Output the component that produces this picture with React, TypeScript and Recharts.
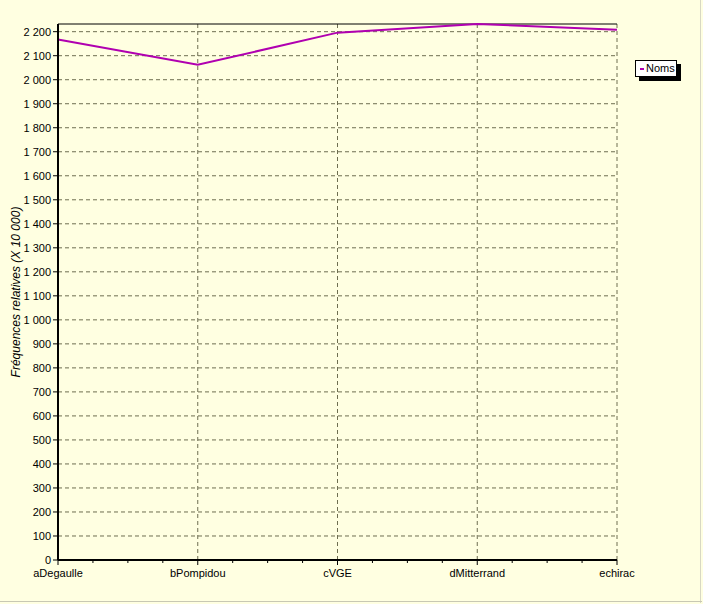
import React from 'react';
import {
  LineChart,
  Line,
  XAxis,
  YAxis,
  CartesianGrid,
  ReferenceLine,
  Label
} from 'recharts';

const categories = ['aDegaulle', 'bPompidou', 'cVGE', 'dMitterrand', 'echirac'];
const noms = [2167, 2062, 2196, 2232, 2208];
const yTicks = [
  0, 100, 200, 300, 400, 500, 600, 700, 800, 900, 1000, 1100,
  1200, 1300, 1400, 1500, 1600, 1700, 1800, 1900, 2000, 2100, 2200
];
const xTicks = [
  0, 0.25, 0.5, 0.75, 1, 1.25, 1.5, 1.75, 2, 2.25, 2.5, 2.75, 3, 3.25, 3.5, 3.75, 4
];
const yMax = 2232;

const data = categories.map((name, i) => ({ idx: i, name, noms: noms[i] }));

const FONT = '"Liberation Sans", Arial, sans-serif';
const BG = '#FFFFE1';
const LINE = '#B000B0';

const fmt = (v: number) =>
  v >= 1000 ? `${Math.floor(v / 1000)} ${String(v % 1000).padStart(3, '0')}` : String(v);

const XTick = (props: any) => {
  const { x, y, payload } = props;
  const v = payload.value as number;
  const major = Number.isInteger(v);
  return (
    <g>
      <line x1={x} x2={x} y1={y} y2={y + (major ? 5 : 3)} stroke="#000" />
      {major && (
        <text x={x} y={y + 17} textAnchor="middle" fontSize={11} fontFamily={FONT} fill="#000">
          {categories[v]}
        </text>
      )}
    </g>
  );
};

const LegendBox = () => (
  <div style={{ position: 'absolute', left: 635, top: 60, width: 46, height: 21 }}>
    <div
      style={{
        position: 'absolute', left: 4, top: 4, width: 42, height: 17, background: '#000'
      }}
    />
    <div
      style={{
        position: 'absolute', left: 0, top: 0, width: 40, height: 15,
        background: '#fff', border: '1px solid #000',
        fontFamily: FONT, fontSize: 11, lineHeight: '15px', color: '#000'
      }}
    >
      <span
        style={{
          display: 'inline-block', width: 4, height: 2, background: LINE,
          verticalAlign: 'middle', margin: '0 2px 0 4px'
        }}
      />
      Noms
    </div>
  </div>
);

export default function App() {
  return (
    <div
      style={{
        position: 'absolute', left: 0, top: 0, width: 703, height: 604, background: BG
      }}
    >
      <div style={{ position: 'absolute', right: 2, top: 0, width: 1, height: 603, background: '#d8d8c4' }} />
      <div style={{ position: 'absolute', left: 0, top: 601, width: 702, height: 1, background: '#c8c8b4' }} />
      <LineChart
        width={703}
        height={604}
        data={data}
        margin={{ top: 24, right: 86, bottom: 14, left: 0 }}
      >
        <CartesianGrid
          stroke="#6e6e50"
          strokeDasharray="4 3"
          verticalValues={[0, 1, 2, 3, 4]}
          horizontalValues={yTicks}
        />
        <ReferenceLine y={yMax} stroke="#000" strokeWidth={1} />
        <XAxis
          dataKey="idx"
          type="number"
          domain={[0, 4]}
          ticks={xTicks}
          interval={0}
          height={30}
          axisLine={{ stroke: '#000', strokeWidth: 2 }}
          tickLine={false}
          tickSize={0}
          tickMargin={0}
          tick={<XTick />}
        />
        <YAxis
          type="number"
          domain={[0, yMax]}
          ticks={yTicks}
          interval={0}
          width={58}
          axisLine={{ stroke: '#000', strokeWidth: 2 }}
          tickLine={{ stroke: '#000' }}
          tickSize={5}
          tickMargin={2}
          tickFormatter={fmt}
          tick={{ fill: '#000', fontSize: 11, fontFamily: FONT }}
        >
          <Label
            content={(p: any) => {
              const vb = p.viewBox || { x: 0, y: 24, width: 58, height: 536 };
              const cx = 16;
              const cy = vb.y + vb.height / 2;
              return (
                <text
                  x={cx}
                  y={cy}
                  transform={`rotate(-90 ${cx} ${cy})`}
                  textAnchor="middle"
                  dominantBaseline="central"
                  fontSize={12}
                  fontStyle="italic"
                  fontFamily={FONT}
                  fill="#000"
                >
                  Fréquences relatives (X 10 000)
                </text>
              );
            }}
          />
        </YAxis>
        <Line
          dataKey="noms"
          name="Noms"
          stroke={LINE}
          strokeWidth={2}
          dot={false}
          isAnimationActive={false}
        />
      </LineChart>
      <LegendBox />
    </div>
  );
}
